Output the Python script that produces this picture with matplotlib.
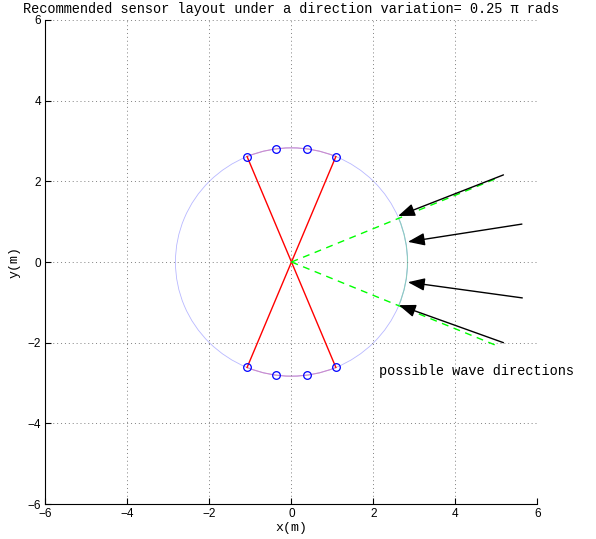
import numpy as np
import matplotlib.pyplot as plt
from matplotlib.patches import Arc

# sensor positions (polar)
sensor_radius = 2.83
sensor_angles = [67.5, 82.5, 97.5, 112.5, -67.5, -82.5, -97.5, -112.5]

# the two crossing sensor lines (pairs of sensor angles)
line_pairs = [(112.5, -67.5), (67.5, -112.5)]

# edges of the direction range (deg) and how far the dashed lines go
dir_edges = [22.5, -22.5]
dir_len = 5.5

# incoming wave arrows
arrow_x0 = [5.17, 5.62, 5.63, 5.17]
arrow_y0 = [2.16, 0.94, -0.89, -2.0]
arrow_x1 = [2.60, 2.84, 2.84, 2.62]
arrow_y1 = [1.14, 0.50, -0.50, -1.07]

ticks = [-6, -4, -2, 0, 2, 4, 6]


def polar(r, deg):
    a = np.deg2rad(deg)
    return r * np.cos(a), r * np.sin(a)


def generate_chart():
    fig = plt.figure(figsize=(5.96, 5.39), dpi=100)
    ax = fig.add_axes([0.0763, 0.0649, 0.8255, 0.898])
    mono = "Liberation Mono"

    # circle and coloured arcs
    d = 2 * sensor_radius
    ax.add_patch(Arc((0, 0), d, d, theta1=0, theta2=360, color=(0.72, 0.72, 1.0), lw=0.6))
    ax.add_patch(Arc((0, 0), d, d, theta1=67.5, theta2=112.5, color=(0.8, 0.55, 0.8), lw=0.8))
    ax.add_patch(Arc((0, 0), d, d, theta1=-112.5, theta2=-67.5, color=(0.8, 0.55, 0.8), lw=0.8))
    ax.add_patch(Arc((0, 0), d, d, theta1=-22.5, theta2=22.5, color=(0.55, 0.8, 0.75), lw=0.8))

    # sensor lines
    for a, b in line_pairs:
        xa, ya = polar(sensor_radius, a)
        xb, yb = polar(sensor_radius, b)
        ax.plot([xa, xb], [ya, yb], color="red", lw=1.0)

    # direction range
    for e in dir_edges:
        xe, ye = polar(dir_len, e)
        ax.plot([0, xe], [0, ye], color=(0, 1, 0), lw=1.0, dashes=(5, 4))

    # sensors
    sx, sy = polar(sensor_radius, np.array(sensor_angles))
    ax.plot(sx, sy, "o", mfc="none", mec="blue", ms=5.5, mew=0.9)

    # arrows
    for x0, y0, x1, y1 in zip(arrow_x0, arrow_y0, arrow_x1, arrow_y1):
        ax.annotate("", xy=(x1, y1), xytext=(x0, y0),
                    arrowprops=dict(arrowstyle="-|>,head_length=0.85,head_width=0.32",
                                    mutation_scale=12, color="black", lw=1.0,
                                    shrinkA=0, shrinkB=0))

    ax.text(2.14, -2.7, "possible wave directions", family=mono, fontsize=9.8,
            va="center", ha="left")

    ax.set_xlim(-6, 6)
    ax.set_ylim(-6, 6)
    ax.set_xticks(ticks)
    ax.set_yticks(ticks)
    ax.tick_params(direction="in", length=4, labelsize=8.5, pad=3)
    for lab in ax.get_xticklabels() + ax.get_yticklabels():
        lab.set_family("Liberation Sans")
    ax.grid(True, color=(0.5, 0.5, 0.5), linestyle=(0, (1, 3)), lw=0.7)
    ax.spines["top"].set_visible(False)
    ax.spines["right"].set_visible(False)
    ax.set_xlabel("x(m)", family=mono, fontsize=9.5, labelpad=1)
    ax.set_ylabel("y(m)", family=mono, fontsize=9.5)
    ax.yaxis.set_label_coords(-0.05, 0.5)
    ax.set_title("Recommended sensor layout under a direction variation= 0.25 π rads",
                 family=[mono, "DejaVu Sans"], fontsize=9.8, pad=5)

    fig.savefig("out.png", dpi=100)


if __name__ == "__main__":
    generate_chart()
